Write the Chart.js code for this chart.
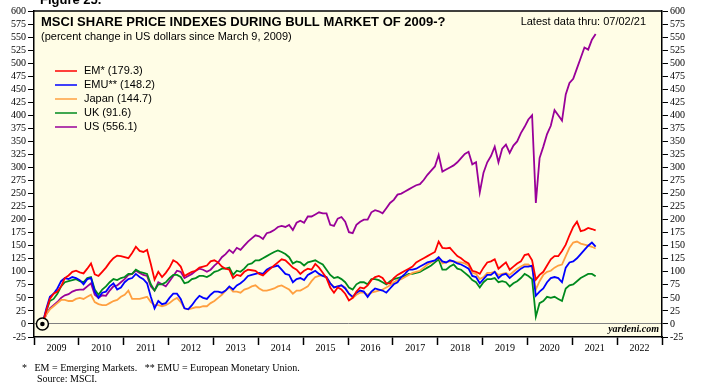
<!DOCTYPE html>
<html>
<head>
<meta charset="utf-8">
<script src="https://cdn.jsdelivr.net/npm/chart.js@4.4.1/dist/chart.umd.min.js"></script>
<style>
  html, body { margin: 0; padding: 0; background: #fff; }
  #wrap { width: 702px; height: 382px; position: relative; }
</style>
</head>
<body>
<div id="wrap"><canvas id="chart" width="702" height="382"></canvas></div>
<script>
// monthly readings, Mar 2009 (base = Mar 9, 2009) .. Jul 2021
const firstMonth = [2009, 3];
const lastMonth = [2021, 7];

const seriesNames = ['EM* (179.3)', 'EMU** (148.2)', 'Japan (144.7)', 'UK (91.6)', 'US (556.1)'];
const seriesColors = ['#ff0000', '#0000ff', '#ffa040', '#008a1e', '#990099'];

const em = [
  0, 25, 48, 58, 62, 72, 88, 93, 100, 102,
  99, 97, 106, 116, 95, 92, 100, 108, 118, 126, 131, 130,
  128, 126, 136, 148, 140, 138, 142, 115, 85, 100, 90, 98,
  108, 122, 118, 110, 92, 96, 100, 102, 108, 110, 112, 120,
  122, 118, 110, 106, 104, 88, 94, 92, 100, 104, 103, 102,
  96, 93, 100, 106, 112, 118, 124, 122, 115, 108, 104, 96,
  102, 106, 104, 115, 108, 98, 88, 70, 60, 70, 66, 58,
  45, 50, 62, 70, 68, 74, 84, 90, 92, 88, 78, 78,
  88, 94, 98, 102, 106, 110, 118, 122, 126, 130, 134, 138,
  158, 146, 145, 146, 138, 130, 126, 120, 116, 102, 100, 96,
  108, 118, 120, 124, 106, 112, 118, 104, 110, 116, 120, 132,
  134, 122, 85, 94, 100, 112, 124, 130, 130, 140, 152, 170,
  186, 196, 178, 180, 184, 182, 179.3
];

const emu = [
  0, 28, 52, 58, 68, 82, 88, 86, 90, 88,
  84, 76, 86, 88, 62, 50, 60, 62, 72, 78, 66, 70,
  80, 86, 88, 96, 90, 86, 78, 52, 30, 44, 38, 40,
  50, 58, 58, 48, 30, 28, 36, 46, 54, 50, 48, 56,
  62, 62, 60, 64, 72, 66, 74, 78, 84, 92, 94, 96,
  98, 96, 104, 108, 110, 112, 104, 96, 94, 80, 86, 88,
  84, 94, 98, 102, 96, 92, 90, 78, 70, 72, 74, 68,
  58, 52, 60, 64, 62, 52, 62, 68, 66, 64, 60, 68,
  76, 80, 90, 96, 104, 104, 106, 110, 114, 118, 120, 122,
  128, 120, 118, 122, 120, 116, 114, 110, 106, 92, 90, 78,
  86, 94, 94, 100, 88, 94, 96, 88, 94, 100, 106, 110,
  110, 112, 54, 62, 68, 80, 88, 90, 88, 80, 108, 118,
  120, 126, 134, 142, 150, 156, 148.2
];

const japan = [
  0, 18, 28, 34, 40, 46, 46, 44, 44, 48,
  50, 48, 52, 56, 42, 38, 36, 36, 40, 44, 46, 52,
  56, 64, 48, 48, 48, 50, 52, 42, 36, 36, 34, 36,
  40, 46, 50, 42, 30, 28, 30, 32, 32, 34, 34, 40,
  44, 50, 56, 64, 70, 62, 62, 60, 66, 68, 72, 74,
  68, 64, 64, 66, 68, 72, 74, 70, 66, 58, 64, 64,
  68, 72, 82, 90, 92, 93, 88, 78, 70, 72, 74, 70,
  58, 50, 56, 60, 60, 56, 60, 62, 64, 66, 70, 74,
  80, 84, 86, 90, 94, 98, 100, 102, 108, 114, 118, 122,
  128, 116, 118, 120, 120, 118, 118, 116, 112, 98, 96, 86,
  90, 98, 98, 100, 94, 96, 98, 94, 100, 106, 110, 114,
  114, 108, 66, 82, 94, 100, 102, 108, 112, 114, 130, 146,
  156, 158, 154, 152, 150, 148, 144.7
];

const uk = [
  0, 24, 44, 48, 58, 72, 80, 82, 84, 86,
  82, 80, 88, 90, 66, 56, 66, 72, 80, 86, 84, 88,
  90, 96, 96, 104, 100, 98, 96, 76, 64, 76, 76, 80,
  88, 94, 94, 90, 78, 80, 86, 88, 92, 92, 90, 94,
  100, 102, 106, 106, 108, 94, 102, 100, 106, 114, 116, 122,
  122, 126, 130, 134, 138, 141, 138, 134, 128, 116, 120, 118,
  112, 118, 120, 122, 118, 114, 104, 94, 88, 90, 86, 80,
  70, 66, 76, 80, 80, 76, 86, 86, 84, 80, 76, 82,
  86, 88, 90, 92, 96, 96, 98, 100, 104, 108, 112, 118,
  124, 104, 104, 110, 114, 106, 104, 98, 92, 84, 80, 70,
  80, 86, 86, 88, 80, 82, 80, 72, 78, 82, 88, 96,
  92, 86, 14, 40, 44, 52, 50, 52, 48, 44, 68, 74,
  76, 82, 88, 92, 96, 96, 91.6
];

const us = [
  0, 18, 30, 36, 42, 50, 55, 57, 62, 65,
  66, 66, 72, 78, 56, 50, 55, 54, 64, 72, 74, 80,
  86, 94, 96, 102, 98, 94, 92, 72, 64, 80, 76, 72,
  82, 92, 102, 100, 88, 92, 96, 102, 106, 104, 100, 104,
  112, 118, 128, 134, 142, 136, 146, 142, 150, 158, 164, 170,
  168, 163, 174, 176, 180, 186, 188, 186, 190, 180, 194, 198,
  194, 206, 206, 210, 214, 212, 212, 190, 188, 202, 205, 196,
  176, 174, 190, 196, 200, 200, 214, 218, 216, 212, 222, 232,
  238, 248, 250, 254, 258, 262, 266, 268, 276, 286, 294, 302,
  324, 292, 296, 300, 304, 310, 318, 326, 330, 306, 310, 252,
  290, 310, 322, 340, 310, 336, 344, 328, 342, 350, 366, 378,
  392, 400, 232, 318, 340, 364, 380, 410, 400, 390, 440, 462,
  470, 490, 510, 530, 526, 545, 556.1
];

const yearLabels = [2009, 2010, 2011, 2012, 2013, 2014, 2015, 2016, 2017, 2018, 2019, 2020, 2021, 2022];

// decimal-year position of each monthly reading
const months = [];
for (let y = firstMonth[0], m = firstMonth[1]; y < lastMonth[0] || (y === lastMonth[0] && m <= lastMonth[1]); ) {
    months.push(y + (m - 0.75) / 12);
    m++;
    if (m > 12) { m = 1; y++; }
}

const toPoints = (vals) => vals.map((v, i) => ({ x: months[i], y: v }));
const allSeries = [em, emu, japan, uk, us];

const sans = '"Liberation Sans", Arial, sans-serif';
const serif = '"Liberation Serif", "Times New Roman", serif';

const lineSets = allSeries.map((vals, i) => ({
    label: seriesNames[i],
    data: toPoints(vals),
    borderColor: seriesColors[i],
    borderWidth: 1.8,
    pointRadius: 0,
    tension: 0,
    order: 1
}));

// bullseye at the start of the bull market
const markerSets = [
    { label: 'start', data: [{ x: months[0], y: 0 }], showLine: false, pointRadius: 6,
      pointBorderColor: '#000', pointBorderWidth: 1.5, pointBackgroundColor: '#fffde6', order: 0 },
    { label: 'start-dot', data: [{ x: months[0], y: 0 }], showLine: false, pointRadius: 2.3,
      pointBorderWidth: 0, pointBackgroundColor: '#000', order: -1 }
];

const textPlugin = {
    id: 'textPlugin',
    beforeDraw(chart) {
        const { ctx, chartArea: a } = chart;
        ctx.save();
        ctx.fillStyle = '#fffde6';
        ctx.fillRect(a.left, a.top, a.right - a.left, a.bottom - a.top);
        ctx.restore();
    },
    afterDraw(chart) {
        const { ctx, chartArea: a } = chart;
        ctx.save();
        // top edge of the box
        ctx.strokeStyle = '#000';
        ctx.lineWidth = 1.5;
        ctx.beginPath();
        ctx.moveTo(a.left, a.top);
        ctx.lineTo(a.right, a.top);
        ctx.stroke();

        ctx.fillStyle = '#000';
        ctx.textBaseline = 'alphabetic';
        ctx.font = 'bold 13px ' + sans;
        ctx.fillText('Figure 25.', 40, 4);

        ctx.font = 'bold 13px ' + sans;
        ctx.fillText('MSCI SHARE PRICE INDEXES DURING BULL MARKET OF 2009-?', 41, 26);
        ctx.font = '11px ' + sans;
        ctx.fillText('(percent change in US dollars since March 9, 2009)', 41, 39.5);
        ctx.textAlign = 'right';
        ctx.fillText('Latest data thru: 07/02/21', 646, 25);

        // legend
        ctx.textAlign = 'left';
        ctx.textBaseline = 'middle';
        ctx.font = '11px ' + sans;
        seriesNames.forEach((name, i) => {
            const y = 71 + i * 14;
            ctx.strokeStyle = seriesColors[i];
            ctx.lineWidth = 1.5;
            ctx.beginPath();
            ctx.moveTo(55, y);
            ctx.lineTo(77, y);
            ctx.stroke();
            ctx.fillStyle = '#000';
            ctx.fillText(name, 84, y);
        });

        ctx.textBaseline = 'alphabetic';
        ctx.textAlign = 'right';
        ctx.font = 'italic bold 10px ' + serif;
        ctx.fillText('yardeni.com', a.right - 3, a.bottom - 5);

        ctx.textAlign = 'left';
        ctx.font = '10px ' + serif;
        ctx.fillText('*   EM = Emerging Markets.   ** EMU = European Monetary Union.', 22, 371);
        ctx.fillText('Source: MSCI.', 37, 382);
        ctx.restore();
    }
};

const yTicks = {
    stepSize: 25,
    autoSkip: false,
    color: '#000',
    padding: 2,
    font: { family: serif, size: 10 }
};

new Chart(document.getElementById('chart'), {
    type: 'line',
    data: { datasets: [...markerSets, ...lineSets] },
    options: {
        responsive: false,
        animation: false,
        devicePixelRatio: 1,
        layout: { padding: { top: 11, left: 0, right: 0, bottom: 0 } },
        plugins: { legend: { display: false }, tooltip: { enabled: false } },
        scales: {
            x: {
                type: 'linear',
                min: 2009,
                max: 2023,
                afterBuildTicks: (scale) => {
                    const t = [];
                    yearLabels.forEach(yr => { t.push({ value: yr }); t.push({ value: yr + 0.5 }); });
                    t.push({ value: 2023 });
                    scale.ticks = t;
                },
                afterFit: (scale) => { scale.height = 45; },
                border: { color: '#000', width: 1.5 },
                grid: {
                    drawOnChartArea: false,
                    tickLength: 8,
                    tickWidth: 1.5,
                    tickColor: (c) => Number.isInteger(c.tick && c.tick.value) ? '#000' : 'rgba(0,0,0,0)'
                },
                ticks: {
                    autoSkip: false,
                    maxRotation: 0,
                    padding: -3,
                    color: '#000',
                    font: { family: serif, size: 10 },
                    callback: (v) => Number.isInteger(v) ? '' : String(Math.floor(v))
                }
            },
            y: {
                position: 'left',
                min: -25,
                max: 600,
                afterFit: (scale) => { scale.width = 34; },
                border: { color: '#000', width: 1.5 },
                grid: {
                    drawOnChartArea: true,
                    tickLength: 6,
                    tickColor: '#000',
                    color: (c) => (c.tick && c.tick.value === 0) ? '#808080' : 'rgba(0,0,0,0)'
                },
                ticks: yTicks
            },
            y2: {
                position: 'right',
                min: -25,
                max: 600,
                afterFit: (scale) => { scale.width = 40; },
                border: { color: '#000', width: 1.5 },
                grid: { drawOnChartArea: false, tickLength: 6, color: '#000' },
                ticks: yTicks
            }
        }
    },
    plugins: [textPlugin]
});
</script>
</body>
</html>
